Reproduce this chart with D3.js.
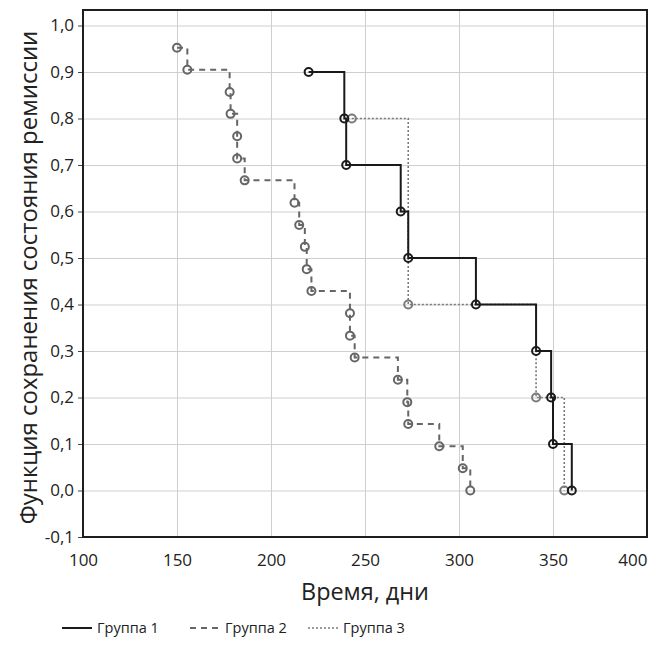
<!DOCTYPE html>
<html>
<head>
<meta charset="utf-8">
<script src="https://cdn.jsdelivr.net/npm/d3@7"></script>
<style>
  body { margin: 0; background: #fff; }
  text { font-family: "Open Sans", sans-serif; fill: #222; }
</style>
</head>
<body>
<div id="chart"></div>
<script>
// Kaplan-Meier data
var xTicks = [100, 150, 200, 250, 300, 350, 400];
var yTicks = [-0.1, 0.0, 0.1, 0.2, 0.3, 0.4, 0.5, 0.6, 0.7, 0.8, 0.9, 1.0];

var group1Time = [220, 239, 240, 269, 273, 309, 341, 349, 350, 360];
var group1Surv = [0.9, 0.8, 0.7, 0.6, 0.5, 0.4, 0.3, 0.2, 0.1, 0.0];

var group2Time = [150, 155.5, 178, 178.5, 182, 182, 186, 212.5, 215, 218, 219, 221.5,
                  242, 242, 244.5, 267.5, 272.5, 273, 289.5, 302, 306];
var group2Surv = [0.952, 0.905, 0.857, 0.810, 0.762, 0.714, 0.667, 0.619, 0.571, 0.524, 0.476, 0.429,
                  0.381, 0.333, 0.286, 0.238, 0.190, 0.143, 0.095, 0.048, 0.0];

var group3Time = [243, 273, 341, 356];
var group3Surv = [0.8, 0.4, 0.2, 0.0];

var legendNames = ["Группа 1", "Группа 2", "Группа 3"];

var svgWidth = 660;
var svgHeight = 648;

// plot frame (note: "top" is a reserved window global, so use other names)
var plotLeft = 83, plotRight = 647, plotTop = 10, plotBottom = 537;

var svg = d3.select("#chart")
  .append("svg")
  .attr("width", svgWidth)
  .attr("height", svgHeight);

var x = d3.scaleLinear().domain([100, 400]).range([plotLeft, plotRight]);
var y = d3.scaleLinear().domain([-0.1, 1.0]).range([plotBottom, 25.5]);

var ru = d3.formatLocale({decimal: ",", thousands: " ", grouping: [3], currency: ["", ""], minus: "-"});
var fmt = ru.format(".1f");

// gridlines
svg.append("g")
  .attr("transform", `translate(${plotLeft},0)`)
  .call(d3.axisLeft(y).tickValues(yTicks).tickSize(-(plotRight - plotLeft)).tickFormat(""))
  .call(g => g.select(".domain").remove())
  .selectAll("line").attr("stroke", "#cfcfcf").attr("stroke-width", 1);

svg.append("g")
  .attr("transform", `translate(0,${plotBottom})`)
  .call(d3.axisBottom(x).tickValues(xTicks).tickSize(-(plotBottom - plotTop)).tickFormat(""))
  .call(g => g.select(".domain").remove())
  .selectAll("line").attr("stroke", "#cfcfcf").attr("stroke-width", 1);

// y tick marks + labels
var yAxis = svg.append("g")
  .attr("transform", `translate(${plotLeft},0)`)
  .call(d3.axisLeft(y).tickValues(yTicks).tickSize(5).tickPadding(4).tickFormat(fmt));
yAxis.select(".domain").remove();
yAxis.selectAll("line").attr("stroke", "#444");
yAxis.selectAll("text")
  .style("font-family", "Open Sans, sans-serif")
  .attr("font-size", 17).attr("fill", "#222");

// x labels
var xAxis = svg.append("g")
  .attr("transform", `translate(0,${plotBottom})`)
  .call(d3.axisBottom(x).tickValues(xTicks).tickSize(0).tickPadding(17).tickFormat(d3.format("d")));
xAxis.select(".domain").remove();
xAxis.selectAll("text")
  .style("font-family", "Open Sans, sans-serif")
  .attr("font-size", 17).attr("fill", "#222")
  .attr("text-anchor", d => d === 400 ? "end" : "middle")
  .attr("dx", d => d === 400 ? 0 : 0);

// frame
svg.append("rect")
  .attr("x", plotLeft).attr("y", plotTop)
  .attr("width", plotRight - plotLeft).attr("height", plotBottom - plotTop)
  .attr("fill", "none").attr("stroke", "#1e1e1e").attr("stroke-width", 2);

var series = [
  {time: group3Time, surv: group3Surv, color: "#7a7a7a", dash: "2,2", width: 1.6},
  {time: group2Time, surv: group2Surv, color: "#666666", dash: "6,5", width: 2},
  {time: group1Time, surv: group1Surv, color: "#1a1a1a", dash: null, width: 2}
];

var line = d3.line()
  .x(d => x(d[0]))
  .y(d => y(d[1]))
  .curve(d3.curveStepAfter);

series.forEach(function(s) {
  var pts = s.time.map((t, i) => [t, s.surv[i]]);
  svg.append("path")
    .datum(pts)
    .attr("d", line)
    .attr("fill", "none")
    .attr("stroke", s.color)
    .attr("stroke-width", s.width)
    .attr("stroke-dasharray", s.dash);
  svg.append("g").selectAll("circle")
    .data(pts)
    .enter()
    .append("circle")
    .attr("cx", d => x(d[0]))
    .attr("cy", d => y(d[1]))
    .attr("r", 4)
    .attr("fill", "none")
    .attr("stroke", s.color)
    .attr("stroke-width", 2);
});

// axis titles, sized to span like the reference
var yTitle = svg.append("text")
  .attr("transform", `translate(29, ${(plotTop + plotBottom) / 2 + 4}) rotate(-90)`)
  .attr("text-anchor", "middle")
  .attr("dy", "0.35em")
  .attr("font-size", 20)
  .text("Функция сохранения состояния ремиссии");
var yLen = yTitle.node().getComputedTextLength();
yTitle.attr("font-size", 20 * 494 / yLen);

var xTitle = svg.append("text")
  .attr("x", 365)
  .attr("y", 600)
  .attr("text-anchor", "middle")
  .attr("font-size", 20)
  .text("Время, дни");
var xLen = xTitle.node().getComputedTextLength();
xTitle.attr("font-size", Math.min(24, 20 * 128 / xLen));

// legend
var legendX = [62, 190, 308];
var legendStyles = [series[2], series[1], series[0]];
legendNames.forEach(function(name, i) {
  var st = legendStyles[i];
  svg.append("line")
    .attr("x1", legendX[i]).attr("x2", legendX[i] + 30)
    .attr("y1", 628).attr("y2", 628)
    .attr("stroke", st.color)
    .attr("stroke-width", st.width)
    .attr("stroke-dasharray", st.dash);
  svg.append("text")
    .attr("x", legendX[i] + 35)
    .attr("y", 633)
    .attr("font-size", 14.5)
    .text(name);
});
</script>
</body>
</html>
